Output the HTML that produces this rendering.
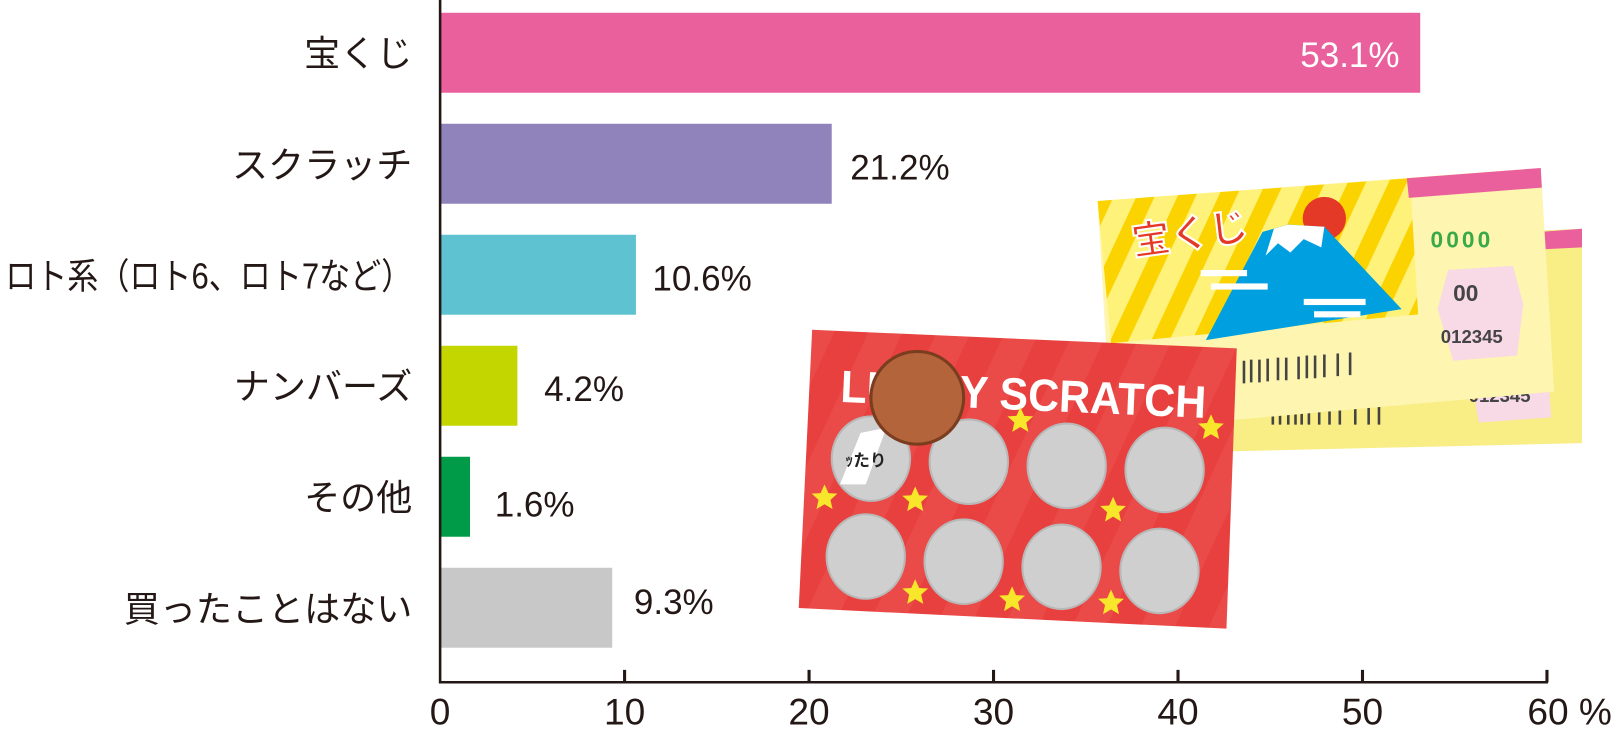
<!DOCTYPE html>
<html><head><meta charset="utf-8"><style>
html,body{margin:0;padding:0;background:#fff;}
svg{display:block;}
text{font-family:"Liberation Sans","Noto Sans CJK JP",sans-serif;}
</style></head><body>
<svg width="1614" height="731" viewBox="0 0 1566 709.3" xmlns="http://www.w3.org/2000/svg">
<defs>
<pattern id="ys" width="36" height="36" patternUnits="userSpaceOnUse" patternTransform="rotate(25)">
<rect width="36" height="36" fill="#fff27a"/><rect width="16" height="36" fill="#fbd300"/></pattern>
<pattern id="rs" width="60" height="60" patternUnits="userSpaceOnUse" patternTransform="rotate(25)">
<rect width="60" height="60" fill="#e8403e"/><rect width="30" height="60" fill="#ea4b48"/></pattern>
<polygon id="st" points="0,-13 3.8,-4.5 12.5,-4 5.8,2 7.8,11 0,6.3 -7.8,11 -5.8,2 -12.5,-4 -3.8,-4.5" fill="#f7e62a"/>
</defs>
<!-- bars -->
<rect x="427" y="12.4" width="951" height="77.6" fill="#e9609c"/>
<rect x="427" y="120.1" width="380" height="77.6" fill="#9083bb"/>
<rect x="427" y="227.8" width="190" height="77.6" fill="#5fc2d1"/>
<rect x="427" y="335.5" width="75" height="77.6" fill="#c3d600"/>
<rect x="427" y="443.2" width="29" height="77.6" fill="#009b48"/>
<rect x="427" y="550.9" width="167" height="77.6" fill="#c8c8c8"/>
<!-- axis -->
<path d="M427 0V662H1502" stroke="#231815" stroke-width="2.5" fill="none"/>
<g stroke="#231815" stroke-width="3">
<path d="M606 662v-12M785 662v-12M964 662v-12M1143 662v-12M1322 662v-12M1501 662v-12"/></g>
<g font-size="36" fill="#231815" text-anchor="middle">
<text x="427" y="703">0</text><text x="606" y="703">10</text><text x="785" y="703">20</text>
<text x="964" y="703">30</text><text x="1143" y="703">40</text><text x="1322" y="703">50</text>
<text x="1523" y="703">60 %</text></g>
<!-- labels -->
<g font-size="35" fill="#231815" text-anchor="end">
<text x="400" y="64">宝くじ</text>
<text x="400" y="172">スクラッチ</text>
<text x="400" y="280" textLength="395" lengthAdjust="spacingAndGlyphs">ロト系（ロト6、ロト7など）</text>
<text x="400" y="387">ナンバーズ</text>
<text x="400" y="495">その他</text>
<text x="400" y="603">買ったことはない</text></g>
<g font-size="34" fill="#231815">
<text x="1358" y="65" text-anchor="end" fill="#fff">53.1%</text>
<text x="825" y="174">21.2%</text>
<text x="633" y="282">10.6%</text>
<text x="528" y="389">4.2%</text>
<text x="480" y="501">1.6%</text>
<text x="615" y="596">9.3%</text></g>
<!-- back ticket -->
<polygon points="1100,240 1535,222 1535,430 1105,440" fill="#f9ed85"/>
<polygon points="1495,225 1535,222 1535,240 1495,242" fill="#e9609c"/>
<polygon points="1420,330 1500,325 1505,405 1435,410" fill="#f8d9e6"/>
<text x="1425" y="390" font-size="18" font-weight="bold" fill="#444">012345</text>
<g stroke="#444" stroke-width="2.5"><path d="M1235 390v22M1242 390v22M1250 390v22M1257 390v22M1263 390v22M1270 390v22M1280 390v22M1290 390v22M1300 390v22M1315 390v22M1328 390v22M1338 390v22"/></g>
<!-- front ticket -->
<polygon points="1065,195 1495,163 1508,380 1078,418" fill="#fdf5b0"/>
<polygon points="1065,195 1368,173 1376,305 1078,333" fill="url(#ys)"/>
<polygon points="1365,173 1495,163 1496,182 1367,192" fill="#e9609c"/>
<circle cx="1285" cy="212" r="21" fill="#e53928"/>
<polygon points="1250,218 1225,225 1170,330 1360,300 1285,220" fill="#00a0e0"/>
<polygon points="1250,218 1285,220 1282,240 1265,232 1252,245 1240,236 1228,248 1236,222" fill="#fff"/>
<g fill="#fff"><rect x="1165" y="262" width="45" height="6"/><rect x="1175" y="275" width="55" height="6"/><rect x="1265" y="290" width="60" height="6"/><rect x="1275" y="302" width="45" height="6"/></g>
<text x="1100" y="248" font-size="38" font-weight="bold" fill="#e53928" stroke="#fff" stroke-width="2" transform="rotate(-8 1100 248)">宝くじ</text>
<text x="1388" y="240" font-size="22" font-weight="bold" fill="#3aa94a" letter-spacing="3">0000</text>
<polygon points="1405,262 1468,258 1478,295 1472,345 1410,350 1395,300" fill="#f8d9e6"/>
<text x="1410" y="292" font-size="22" font-weight="bold" fill="#444">00</text>
<text x="1398" y="333" font-size="18" font-weight="bold" fill="#444">012345</text>
<g stroke="#444" stroke-width="2.5"><path d="M1207 350v22M1214 349v22M1222 349v22M1230 348v22M1240 347v22M1248 347v22M1260 346v22M1268 345v22M1276 345v22M1285 344v22M1298 343v22M1310 342v22"/></g>
<!-- scratch card -->
<polygon points="788,320 1200,338 1190,610 775,590" fill="url(#rs)"/>
<text x="815" y="390" font-size="44" font-weight="bold" fill="#fff" textLength="355" lengthAdjust="spacingAndGlyphs" transform="rotate(2.5 815 390)">LUCKY SCRATCH</text>
<g fill="#cfcfcf" stroke="#b8b8b8" stroke-width="2">
<ellipse cx="845" cy="445" rx="38" ry="41"/><ellipse cx="940" cy="448" rx="38" ry="41"/><ellipse cx="1035" cy="452" rx="38" ry="41"/><ellipse cx="1130" cy="456" rx="38" ry="41"/>
<ellipse cx="840" cy="540" rx="38" ry="41"/><ellipse cx="935" cy="545" rx="38" ry="41"/><ellipse cx="1030" cy="550" rx="38" ry="41"/><ellipse cx="1125" cy="554" rx="38" ry="41"/></g>
<polygon points="835,420 860,415 840,470 815,470" fill="#fff"/>
<text x="820" y="452" font-size="16" font-weight="bold" fill="#222">ｯたり</text>
<circle cx="890" cy="386" r="45" fill="#b3643a" stroke="#7a3d1f" stroke-width="3"/>
<use href="#st" x="990" y="408"/><use href="#st" x="1175" y="415"/><use href="#st" x="800" y="483"/>
<use href="#st" x="888" y="485"/><use href="#st" x="1080" y="495"/><use href="#st" x="888" y="575"/>
<use href="#st" x="982" y="582"/><use href="#st" x="1078" y="585"/>
</svg>
</body></html>
